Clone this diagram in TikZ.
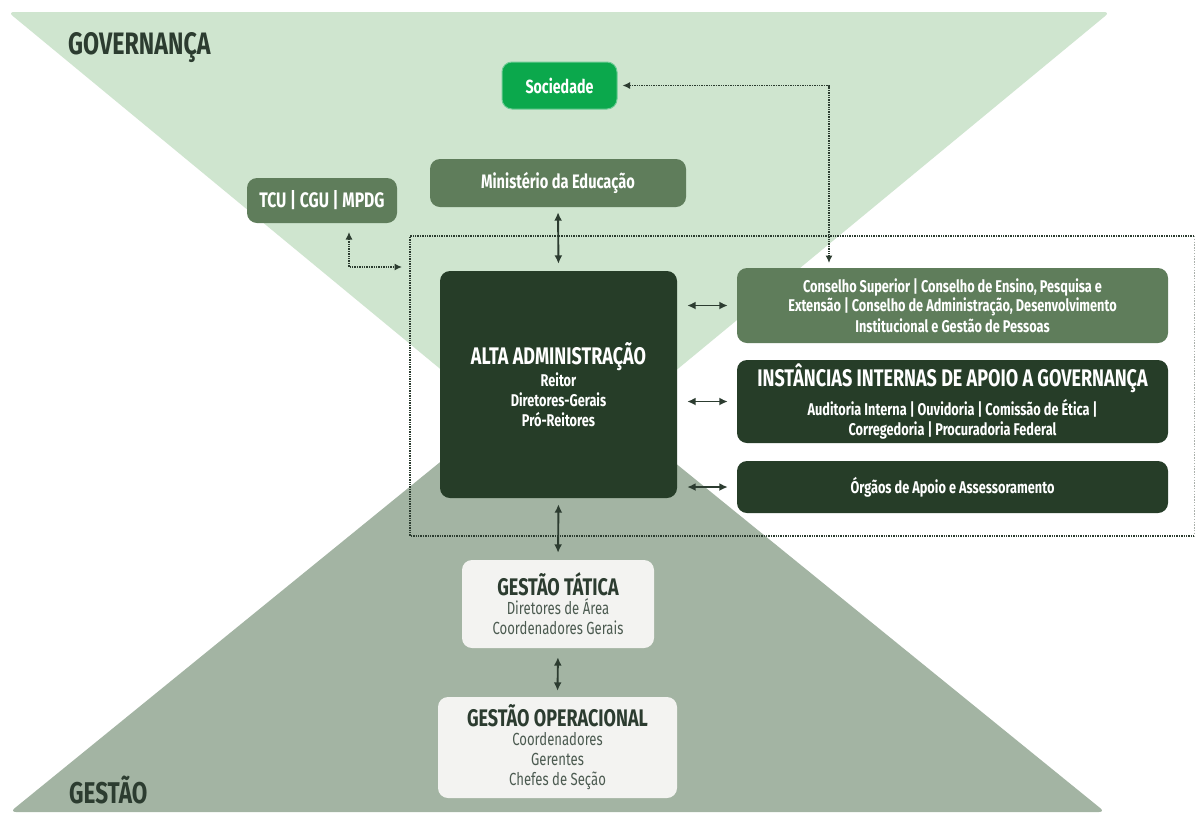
\documentclass[tikz,border=0pt]{standalone}
\usepackage{fontspec}
\setmainfont{Fira Sans}[FakeStretch=0.75]
\usetikzlibrary{arrows.meta,calc}
\definecolor{lightg}{HTML}{CFE5CF}
\definecolor{grayg}{HTML}{A3B4A3}
\definecolor{medg}{HTML}{5F7D5B}
\definecolor{darkg}{HTML}{263D28}
\definecolor{brightg}{HTML}{0BA84C}
\definecolor{boxw}{HTML}{F3F3F1}
\definecolor{ink}{HTML}{2C3C30}
\definecolor{subink}{HTML}{4B5A50}
\newcommand{\fs}[1]{\fontsize{#1}{#1}\selectfont}
\begin{document}
\begin{tikzpicture}[x=1pt,y=-1pt,
  box/.style={rounded corners=10pt, inner sep=0pt, align=center, font=\bfseries, text=white},
  medbox/.style={box, fill=medg},
  darkbox/.style={box, fill=darkg},
  lightbox/.style={box, fill=boxw, text=ink},
  conn/.style={draw=ink, line width=1.9pt, {Latex[length=8.5pt,width=8pt]}-{Latex[length=8.5pt,width=8pt]}},
  dotconn/.style={draw=ink, line width=1.3pt, dash pattern=on 1.4pt off 1pt, {Latex[length=7.5pt,width=7pt]}-{Latex[length=7.5pt,width=7pt]}},
  zone/.style={font=\bfseries\fs{31}, text=ink, anchor=base west, inner sep=0pt}
]
\useasboundingbox (0,0) rectangle (1195,812);
\fill[white] (0,0) rectangle (1195,812);
% background triangles
\fill[lightg, rounded corners=6pt] (8,12) -- (1110,12) -- (559,467) -- cycle;
\fill[grayg, rounded corners=6pt] (10,812) -- (1105,812) -- (557,367) -- cycle;
\fill[grayg] (30,805) rectangle (1090,812);
% dotted frame
\draw[draw=ink, line width=1.3pt, dash pattern=on 1.4pt off 1pt] (1194,236) -- (410,236) -- (410,536) -- (1194,536);
\draw[draw=ink!40, line width=1pt, dash pattern=on 1.4pt off 1.4pt] (1194,236) -- (1194,536);

\node[zone] (gov) at (68,54) {GOVERNANÇA};
\node[zone, font=\bfseries\fs{30}] (gest) at (69,803) {GESTÃO};

\node[box, fill=brightg, draw=brightg!60!white, line width=1pt, minimum width=115pt, minimum height=47pt, font=\bfseries\fs{19}] (soc) at (559.5,85.5) {Sociedade};
\node[medbox, minimum width=256pt, minimum height=48pt, font=\bfseries\fs{19.5}] (mec) at (558,183) {Ministério da Educação};
\node[medbox, minimum width=150pt, minimum height=45pt, font=\bfseries\fs{21}] (tcu) at (322,200.5) {TCU | CGU | MPDG};

\node[darkbox, minimum width=237pt, minimum height=227pt, font=\bfseries\fs{17}] (alta) at (558.5,384.5)
  {{\fs{24}ALTA ADMINISTRAÇÃO}\\[1.5pt] Reitor\\[3pt] Diretores-Gerais\\[3pt] Pró-Reitores};

\node[medbox, minimum width=431pt, minimum height=75pt, font=\bfseries\fs{17}] (cons) at (952.5,305.5)
  {Conselho Superior | Conselho de Ensino, Pesquisa e\\[1pt] Extensão | Conselho de Administração, Desenvolvimento\\[1pt] Institucional e Gestão de Pessoas};
\node[darkbox, minimum width=431pt, minimum height=83pt, font=\bfseries\fs{17}] (inst) at (952.5,401.5)
  {{\fs{24}INSTÂNCIAS INTERNAS DE APOIO A GOVERNANÇA}\\[5pt] Auditoria Interna | Ouvidoria | Comissão de Ética |\\[3pt] Corregedoria | Procuradoria Federal};
\node[darkbox, minimum width=431pt, minimum height=52pt, font=\bfseries\fs{17}] (org) at (952.5,487)
  {Órgãos de Apoio e Assessoramento};

\node[lightbox, minimum width=192pt, minimum height=88pt, font=\fs{17.5}] (tat) at (558,604)
  {{\bfseries\fs{24}GESTÃO TÁTICA}\\[1.5pt] {\color{subink}Diretores de Área}\\[2.5pt] {\color{subink}Coordenadores Gerais}};
\node[lightbox, minimum width=239pt, minimum height=101pt, font=\fs{17.5}] (ope) at (557.5,747.5)
  {{\bfseries\fs{24}GESTÃO OPERACIONAL}\\[1.5pt] {\color{subink}Coordenadores}\\[2.5pt] {\color{subink}Gerentes}\\[2.5pt] {\color{subink}Chefes de Seção}};

% solid connectors
\draw[conn, shorten <=5pt, shorten >=7pt] (mec.south) -- (alta.north);
\draw[conn, shorten <=6pt, shorten >=7pt] (alta.south) -- (tat.north);
\draw[conn, shorten <=9pt, shorten >=6pt] (tat.south) -- (ope.north);
\draw[conn, shorten <=10pt, shorten >=9pt] (alta.east |- cons.west) -- (cons.west);
\draw[conn, shorten <=10pt, shorten >=9pt] (alta.east |- inst.west) -- (inst.west);
\draw[conn, shorten <=10pt, shorten >=9pt] (alta.east |- org.west) -- (org.west);

% dotted connectors
\coordinate (tcuport) at (349,223);
\coordinate (frameport) at (410,267);
\draw[dotconn, shorten <=9pt, shorten >=8pt] (tcuport) |- (frameport);
\coordinate (consport) at (829,268);
\draw[dotconn, shorten <=5pt, shorten >=5pt] (soc.east) -| (consport);
\end{tikzpicture}
\end{document}
